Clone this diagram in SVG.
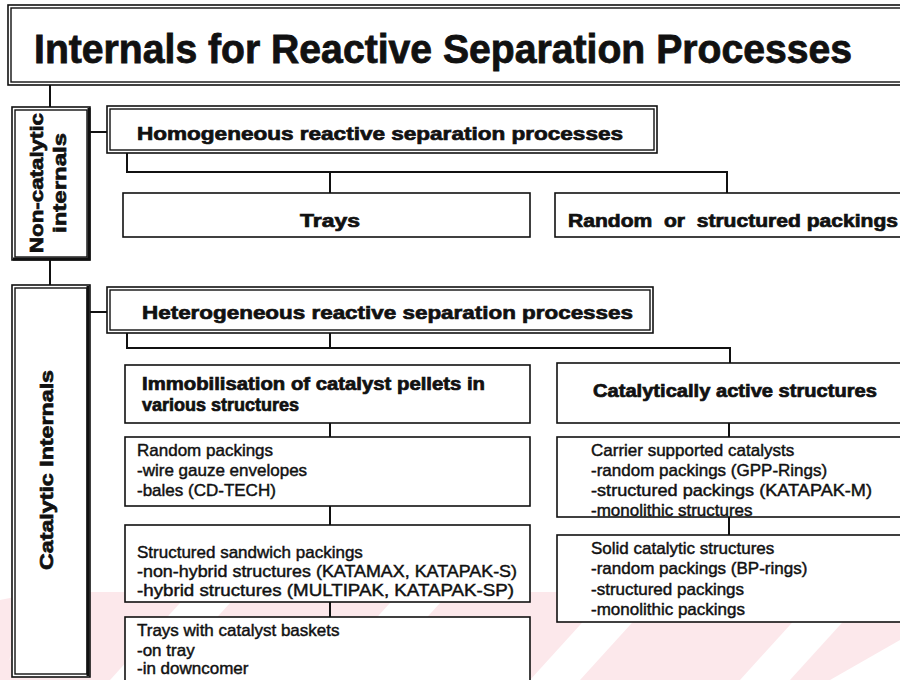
<svg xmlns="http://www.w3.org/2000/svg" width="900" height="680" viewBox="0 0 900 680">
<style>
.b{fill:#fff;stroke:#111;stroke-width:1.6}
.t{fill:none;stroke:#111;stroke-width:1.4}
.sh{fill:none;stroke:#111;stroke-width:3}
.c{fill:none;stroke:#111;stroke-width:2}
.h{font-family:"Liberation Sans",Arial,sans-serif;font-weight:bold;fill:#111;stroke:#111;stroke-width:0.7}
.n{font-family:"Liberation Sans",Arial,sans-serif;font-size:17px;fill:#111;stroke:#111;stroke-width:0.45}
</style>
<rect width="900" height="680" fill="#fff"/>
<g id="watermark" fill="#fce8eb">
<polygon points="0,600 40,592 0,680"/>
<polygon points="70,592 190,592 110,680 0,680 0,670"/>
<polygon points="240,592 400,592 320,680 160,680"/>
<polygon points="450,592 610,592 530,680 370,680"/>
<polygon points="660,592 820,592 740,680 580,680"/>
<polygon points="870,592 900,592 900,640 830,680 790,680"/>
</g>
<g id="connectors">
<path class="c" d="M50,85V108M50,260V285M90,132H108M90,312H108"/>
<path class="c" d="M127,153V172H727V193M330,172V193"/>
<path class="c" d="M127,333V348H730V363M330,333V348"/>
<path class="c" d="M330,423V437M330,506V525M330,602V617"/>
<path class="c" d="M729,423V437M729,517V535"/>
</g>
<g id="title">
<rect class="b" x="8" y="5" width="900" height="80"/>
<rect class="t" x="11" y="8" width="900" height="74"/>
<text class="h" x="34" y="63" font-size="40" textLength="818" lengthAdjust="spacingAndGlyphs" style="stroke-width:0.8">Internals for Reactive Separation Processes</text>
</g>
<g id="noncatalytic">
<rect class="b" x="12" y="107" width="78" height="153"/>
<rect class="t" x="15" y="110" width="72" height="147"/>
<path class="sh" d="M89,108V259H13"/>
<text class="h" font-size="19" transform="translate(43,183) rotate(-90)" text-anchor="middle" textLength="140" lengthAdjust="spacingAndGlyphs">Non-catalytic</text>
<text class="h" font-size="19" transform="translate(66,183) rotate(-90)" text-anchor="middle" textLength="100" lengthAdjust="spacingAndGlyphs">internals</text>
</g>
<g id="homogeneous">
<rect class="b" x="107" y="106" width="550" height="47"/>
<rect class="t" x="110" y="109" width="544" height="41"/>
<text class="h" x="137" y="140" font-size="19" textLength="486" lengthAdjust="spacingAndGlyphs">Homogeneous reactive separation processes</text>
</g>
<g id="trays">
<rect class="b" x="123" y="193" width="407" height="44"/>
<text class="h" x="330" y="227" font-size="18" text-anchor="middle" textLength="60" lengthAdjust="spacingAndGlyphs">Trays</text>
</g>
<g id="random-structured">
<rect class="b" x="555" y="193" width="360" height="44"/>
<text class="h" x="568" y="227" font-size="18" textLength="330" lengthAdjust="spacingAndGlyphs" xml:space="preserve">Random  or  structured packings</text>
</g>
<g id="catalytic">
<rect class="b" x="12" y="285" width="78" height="392"/>
<rect class="t" x="15" y="288" width="72" height="386"/>
<path class="sh" d="M88,286V676"/>
<text class="h" font-size="18" transform="translate(53,470) rotate(-90)" text-anchor="middle" textLength="200" lengthAdjust="spacingAndGlyphs">Catalytic Internals</text>
</g>
<g id="heterogeneous">
<rect class="b" x="107" y="287" width="546" height="46"/>
<rect class="t" x="110" y="290" width="540" height="40"/>
<text class="h" x="142" y="319" font-size="19" textLength="491" lengthAdjust="spacingAndGlyphs">Heterogeneous reactive separation processes</text>
</g>
<g id="immobilisation">
<rect class="b" x="125" y="365" width="405" height="58"/>
<text class="h" x="142" y="390" font-size="18" textLength="343" lengthAdjust="spacingAndGlyphs">Immobilisation of catalyst pellets in</text>
<text class="h" x="142" y="411" font-size="18">various structures</text>
</g>
<g id="active-structures">
<rect class="b" x="557" y="363" width="360" height="60"/>
<text class="h" x="593" y="397" font-size="18" textLength="284" lengthAdjust="spacingAndGlyphs">Catalytically active structures</text>
</g>
<g id="random-packings">
<rect class="b" x="125" y="437" width="405" height="69"/>
<text class="n" x="137" y="456">Random packings</text>
<text class="n" x="137" y="476">-wire gauze envelopes</text>
<text class="n" x="137" y="496">-bales (CD-TECH)</text>
</g>
<g id="sandwich">
<rect class="b" x="125" y="525" width="405" height="77"/>
<text class="n" x="137" y="558">Structured sandwich packings</text>
<text class="n" x="137" y="577" textLength="380" lengthAdjust="spacingAndGlyphs">-non-hybrid structures (KATAMAX, KATAPAK-S)</text>
<text class="n" x="137" y="596" textLength="377" lengthAdjust="spacingAndGlyphs">-hybrid structures (MULTIPAK, KATAPAK-SP)</text>
</g>
<g id="trays-baskets">
<rect class="b" x="125" y="617" width="405" height="80"/>
<text class="n" x="137" y="636">Trays with catalyst baskets</text>
<text class="n" x="137" y="656">-on tray</text>
<text class="n" x="137" y="674">-in downcomer</text>
</g>
<g id="carrier">
<rect class="b" x="557" y="437" width="360" height="80"/>
<text class="n" x="591" y="456">Carrier supported catalysts</text>
<text class="n" x="591" y="476">-random packings (GPP-Rings)</text>
<text class="n" x="591" y="496" textLength="281" lengthAdjust="spacingAndGlyphs">-structured packings (KATAPAK-M)</text>
<text class="n" x="591" y="516">-monolithic structures</text>
</g>
<g id="solid">
<rect class="b" x="557" y="535" width="360" height="87"/>
<text class="n" x="591" y="554">Solid catalytic structures</text>
<text class="n" x="591" y="574">-random packings (BP-rings)</text>
<text class="n" x="591" y="595">-structured packings</text>
<text class="n" x="591" y="615">-monolithic packings</text>
</g>
</svg>
